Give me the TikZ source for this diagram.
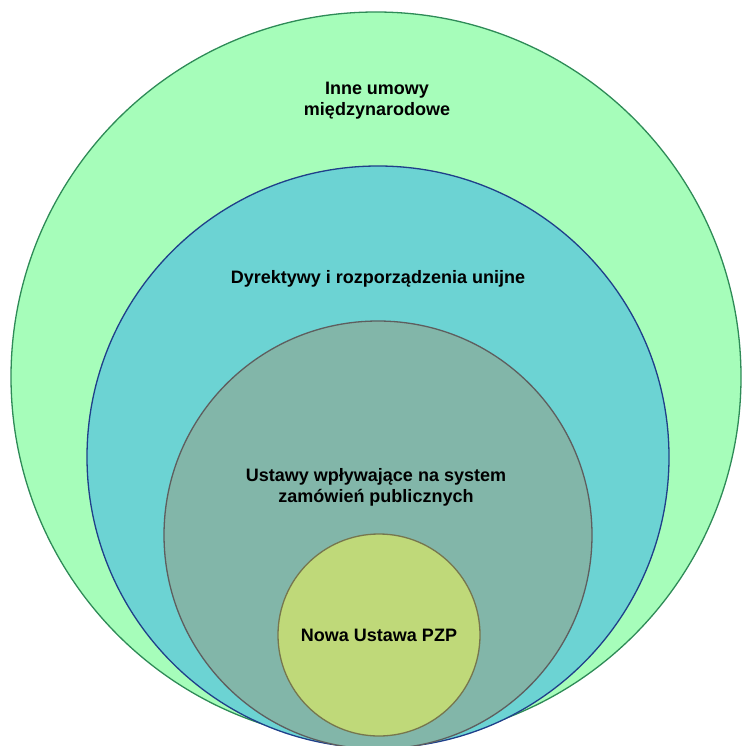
\documentclass[tikz,border=0pt]{standalone}
\usepackage{fontspec}
\setmainfont{Liberation Sans}
\definecolor{outerfill}{HTML}{A6FDBA}
\definecolor{outerline}{HTML}{2E8B57}
\definecolor{eufill}{HTML}{6CD3D3}
\definecolor{euline}{HTML}{1F3F8A}
\definecolor{lawfill}{HTML}{82B6A9}
\definecolor{lawline}{HTML}{5E5E5E}
\definecolor{pzpfill}{HTML}{BFD979}
\definecolor{pzpline}{HTML}{76764E}
\tikzset{
  ring/.style={circle, inner sep=0pt, line width=1.3pt},
  lbl/.style={font=\bfseries\fontsize{18}{21}\selectfont, align=center, text=black}
}
\begin{document}
\begin{tikzpicture}[x=1pt, y=-1pt]
\useasboundingbox (0,0) rectangle (742,746);
\clip (0,0) rectangle (742,746);
\node[ring, draw=outerline, fill=outerfill, minimum size=730pt] (outer) at (376,377) {};
\node[ring, draw=euline, fill=eufill, minimum size=582pt] (eu) at (378,457) {};
\node[ring, draw=lawline, fill=lawfill, minimum size=428pt] (law) at (378,535) {};
\node[ring, draw=pzpline, fill=pzpfill, minimum size=202pt] (pzp) at (379,635) {};
\node[lbl] (t1) at (377,101) {Inne umowy\\międzynarodowe};
\node[lbl] (t2) at (378,279) {Dyrektywy i rozporządzenia unijne};
\node[lbl] (t3) at (376,487) {Ustawy wpływające na system\\zamówień publicznych};
\node[lbl] (t4) at (379,635) {Nowa Ustawa PZP};
\end{tikzpicture}
\end{document}
